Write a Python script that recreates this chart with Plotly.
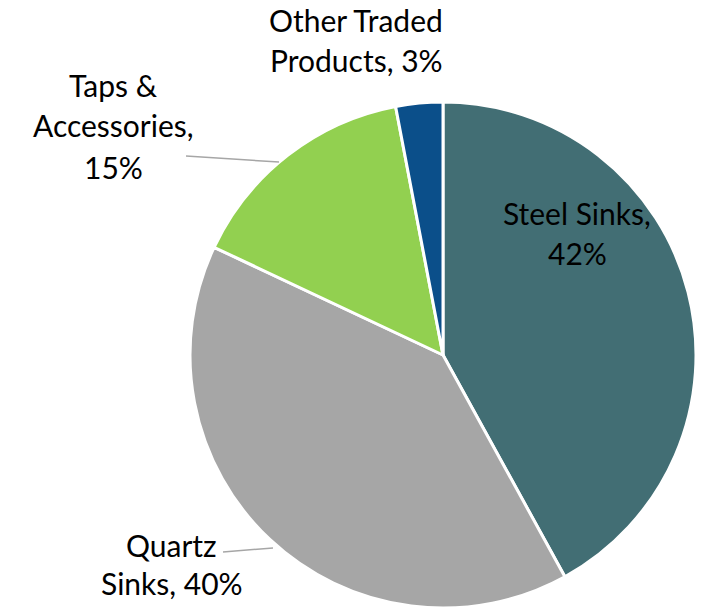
import plotly.graph_objects as go

# Share of revenue by product line
categories = ["Steel Sinks", "Quartz Sinks", "Taps & Accessories", "Other Traded Products"]
shares = [42, 40, 15, 3]
colors = ["#426E74", "#A6A6A6", "#92D050", "#0B4F8A"]

W, H = 705, 610
cx, cy, r = 443, 355, 253  # pie centre and radius in pixels

fig = go.Figure(
    go.Pie(
        labels=categories,
        values=shares,
        sort=False,
        direction="clockwise",
        rotation=0,
        textinfo="none",
        hoverinfo="label+percent",
        marker=dict(colors=colors, line=dict(color="white", width=3)),
        domain=dict(x=[(cx - r) / W, (cx + r) / W], y=[1 - (cy + r) / H, 1 - (cy - r) / H]),
        showlegend=False,
    )
)

# Data labels, one annotation per text line: (text, centre x px, centre y px)
label_lines = [
    ("Other Traded", 356, 20),
    ("Products, 3%", 357, 60),
    ("Taps &", 113, 85),
    ("Accessories,", 113, 125),
    ("15%", 113, 167),
    (f"{categories[0]},", 577, 213),
    (f"{shares[0]}%", 577, 253),
    ("Quartz", 171, 545),
    (f"Sinks, {shares[1]}%", 172, 583),
]
for text, x, y in label_lines:
    fig.add_annotation(
        text=text, x=x / W, y=1 - y / H, xref="paper", yref="paper",
        xanchor="center", yanchor="middle", showarrow=False,
        font=dict(family="Lato, Open Sans, sans-serif", size=30, color="black"),
    )

# Leader lines for the outside labels
leaders = [((186, 156), (279, 162)), ((223, 552), (273, 548))]
for (x0, y0), (x1, y1) in leaders:
    fig.add_shape(
        type="line", xref="paper", yref="paper",
        x0=x0 / W, y0=1 - y0 / H, x1=x1 / W, y1=1 - y1 / H,
        line=dict(color="#A6A6A6", width=1.5),
    )

fig.update_layout(
    width=W, height=H,
    margin=dict(l=0, r=0, t=0, b=0),
    paper_bgcolor="white",
    plot_bgcolor="white",
)

fig.write_html("out.html")
